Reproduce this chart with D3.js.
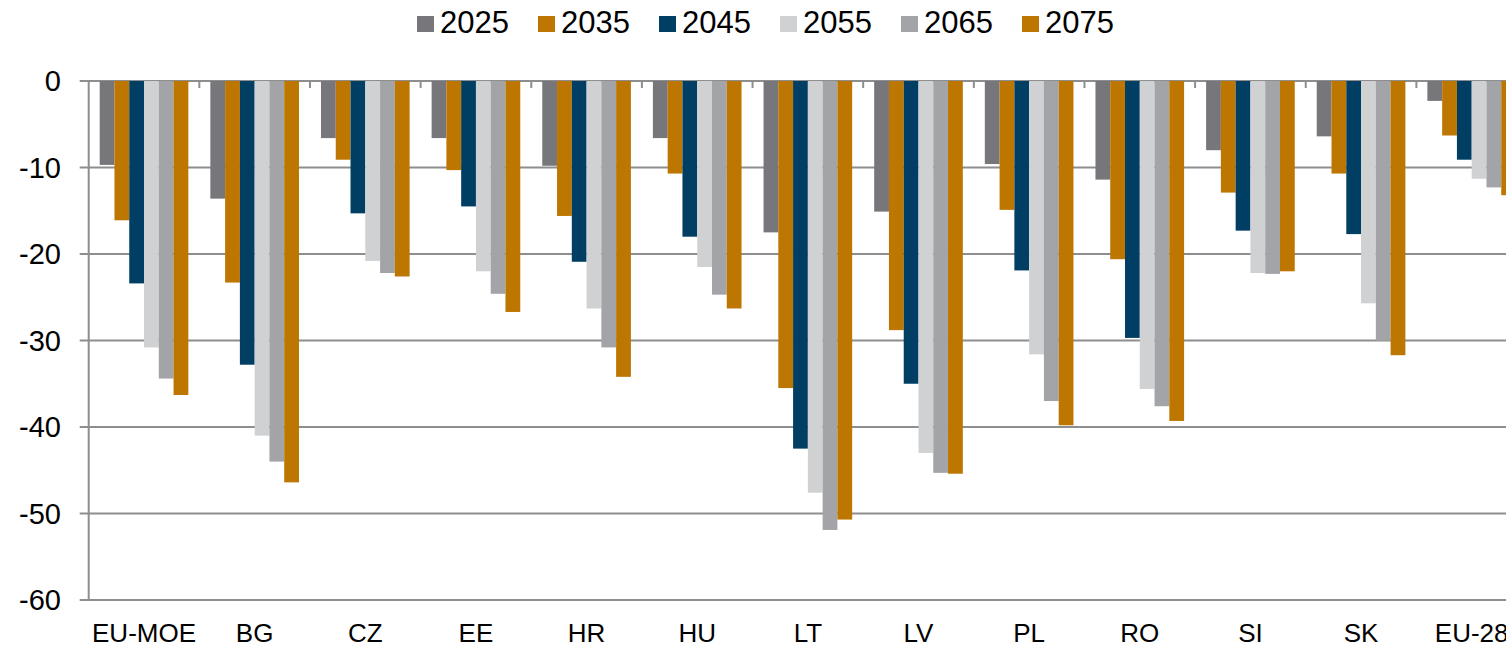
<!DOCTYPE html>
<html>
<head>
<meta charset="utf-8">
<script src="https://cdn.jsdelivr.net/npm/d3@7"></script>
<style>
  body { margin: 0; background: #fff; }
  svg { display: block; font-family: "Liberation Sans", Arial, sans-serif; }
</style>
</head>
<body>
<svg class="chart"></svg>
<script>
let width = 1506
let height = 645

let countries = ['EU-MOE', 'BG', 'CZ', 'EE', 'HR', 'HU', 'LT', 'LV', 'PL', 'RO', 'SI', 'SK', 'EU-28']
let years = ['2025', '2035', '2045', '2055', '2065', '2075']
let yTicks = [0, -10, -20, -30, -40, -50, -60]

// one array per year, in country order
let v2025 = [-9.7, -13.6, -6.6, -6.6, -9.8, -6.6, -17.5, -15.1, -9.6, -11.4, -8.0, -6.4, -2.3]
let v2035 = [-16.1, -23.3, -9.1, -10.3, -15.6, -10.7, -35.5, -28.8, -14.9, -20.6, -12.9, -10.7, -6.3]
let v2045 = [-23.4, -32.8, -15.3, -14.5, -20.9, -18.0, -42.5, -35.0, -21.9, -29.7, -17.3, -17.7, -9.1]
let v2055 = [-30.8, -41.0, -20.8, -22.0, -26.3, -21.5, -47.6, -43.0, -31.6, -35.6, -22.2, -25.7, -11.3]
let v2065 = [-34.4, -44.0, -22.2, -24.6, -30.8, -24.7, -51.9, -45.3, -37.0, -37.6, -22.3, -30.0, -12.3]
let v2075 = [-36.3, -46.4, -22.6, -26.7, -34.2, -26.3, -50.7, -45.4, -39.8, -39.3, -22.0, -31.7, -13.2]

let seriesValues = [v2025, v2035, v2045, v2055, v2065, v2075]
let colors = ['#77767b', '#bd7600', '#003f63', '#d0d1d3', '#a3a4a8', '#bd7600']

let svg = d3.select('.chart')
  .attr('width', width)
  .attr('height', height)

let left = 88.7
let bandW = 110.64

let x0 = d3.scaleBand()
  .domain(countries)
  .range([left, left + bandW * countries.length])

let x1 = d3.scaleBand()
  .domain(years)
  .range([11, bandW - 11])

let y = d3.scaleLinear()
  .domain([0, -60])
  .range([81, 600])

let color = d3.scaleOrdinal(years, colors)

// gridlines
svg.append('g')
  .selectAll('line')
  .data(yTicks)
  .enter()
  .append('line')
  .attr('x1', left - 9)
  .attr('x2', width)
  .attr('y1', (d) => y(d))
  .attr('y2', (d) => y(d))
  .attr('stroke', '#8e8e8e')
  .attr('stroke-width', 2)

// y axis line
svg.append('line')
  .attr('x1', left).attr('x2', left)
  .attr('y1', y(0)).attr('y2', y(-60))
  .attr('stroke', '#8e8e8e')
  .attr('stroke-width', 2)

// category ticks on zero line
svg.append('g')
  .selectAll('line')
  .data(countries.slice(1))
  .enter()
  .append('line')
  .attr('x1', (d) => x0(d))
  .attr('x2', (d) => x0(d))
  .attr('y1', y(0))
  .attr('y2', y(0) + 7)
  .attr('stroke', '#8e8e8e')
  .attr('stroke-width', 2)

// bars
let groups = svg.append('g')
  .selectAll('g')
  .data(countries)
  .enter()
  .append('g')
  .attr('transform', (d) => `translate(${x0(d)}, 0)`)

groups.selectAll('rect')
  .data((c, i) => years.map((yr, k) => ({ year: yr, value: seriesValues[k][i] })))
  .enter()
  .append('rect')
  .attr('x', (d) => x1(d.year))
  .attr('width', x1.bandwidth())
  .attr('y', y(0))
  .attr('height', (d) => y(d.value) - y(0))
  .attr('fill', (d) => color(d.year))

// y labels
svg.append('g')
  .selectAll('text')
  .data(yTicks)
  .enter()
  .append('text')
  .attr('x', 61)
  .attr('y', (d) => y(d))
  .attr('dy', '0.36em')
  .attr('text-anchor', 'end')
  .attr('font-size', 29)
  .attr('fill', '#000')
  .text((d) => d)

// x labels
svg.append('g')
  .selectAll('text')
  .data(countries)
  .enter()
  .append('text')
  .attr('x', (d) => x0(d) + bandW / 2)
  .attr('y', 642)
  .attr('text-anchor', 'middle')
  .attr('font-size', 26)
  .attr('fill', '#000')
  .text((d) => d)

// legend
let legend = svg.append('g')
  .selectAll('g')
  .data(years)
  .enter()
  .append('g')
  .attr('transform', (d, i) => `translate(${417 + i * 121}, 0)`)

legend.append('rect')
  .attr('x', 0)
  .attr('y', 16)
  .attr('width', 17)
  .attr('height', 16)
  .attr('fill', (d) => color(d))

legend.append('text')
  .attr('x', 23)
  .attr('y', 33)
  .attr('font-size', 31)
  .attr('fill', '#000')
  .text((d) => d)
</script>
</body>
</html>
